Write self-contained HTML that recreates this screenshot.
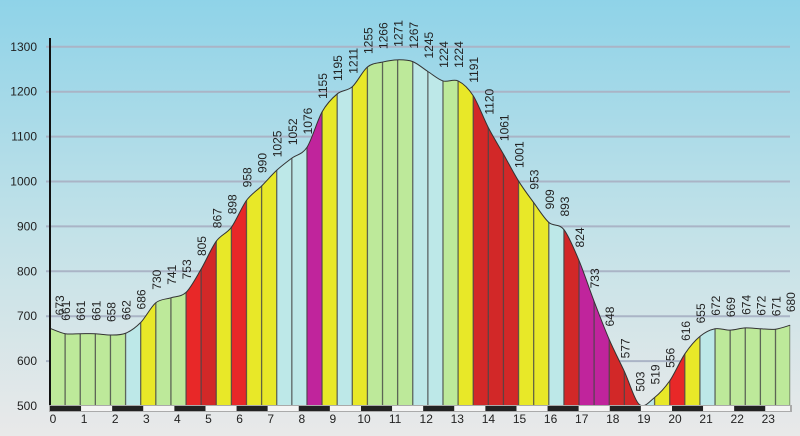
<!DOCTYPE html>
<html><head><meta charset="utf-8">
<style>
html,body{margin:0;padding:0;width:800px;height:436px;overflow:hidden;}
svg{display:block;font-family:"Liberation Sans",sans-serif;}
</style></head>
<body>
<svg id="chart" width="800" height="436" viewBox="0 0 800 436" xmlns="http://www.w3.org/2000/svg">
<defs>
<linearGradient id="bg" x1="0" y1="0" x2="0" y2="1">
<stop offset="0" stop-color="#8fd3e8"/>
<stop offset="0.55" stop-color="#c4e2e8"/>
<stop offset="1" stop-color="#e9e9e9"/>
</linearGradient>
<clipPath id="areaClip"><path id="clipPath"/></clipPath>
</defs>
<rect x="0" y="0" width="800" height="436" fill="url(#bg)"/>
<g id="grid"></g>
<g id="yticks"></g>
<g id="segs" clip-path="url(#areaClip)"></g>
<path id="outline" fill="none" stroke="#333" stroke-width="1"/>
<g id="labels"></g>
<line x1="50" y1="38" x2="50" y2="407" stroke="#111" stroke-width="2"/>
<g id="kmbar"></g>
<g id="xticks"></g>
</svg>
<script>
const elevations = [673,661,661,661,658,662,686,730,741,753,805,867,898,958,990,1025,1052,1076,1155,1195,1211,1255,1266,1271,1267,1245,1224,1224,1191,1120,1061,1001,953,909,893,824,733,648,577,503,519,556,616,655,672,669,674,672,671,680];
const distances = [0,0.486,0.972,1.458,1.944,2.43,2.916,3.402,3.888,4.374,4.86,5.346,5.832,6.318,6.804,7.29,7.776,8.262,8.748,9.234,9.72,10.206,10.692,11.178,11.664,12.15,12.636,13.122,13.608,14.094,14.58,15.066,15.552,16.038,16.524,17.01,17.496,17.982,18.468,18.954,19.44,19.926,20.412,20.898,21.384,21.87,22.356,22.842,23.328,23.8];
const yTickLabels = [500,600,700,800,900,1000,1100,1200,1300];
const xTickLabels = [0,1,2,3,4,5,6,7,8,9,10,11,12,13,14,15,16,17,18,19,20,21,22,23];

const NS='http://www.w3.org/2000/svg';
const X0=50, PXKM=31.1, Y0=406, PXM=0.449;
const xs = d => X0 + d*PXKM;
const ys = v => Y0 - (v-500)*PXM;
function mk(tag, attrs, parent){const e=document.createElementNS(NS,tag);for(const k in attrs)e.setAttribute(k,attrs[k]);parent.appendChild(e);return e;}
const C={green:'#bde99a',blue:'#bde8e8',yellow:'#e8e828',red:'#e82828',dred:'#d22828',mag:'#c0249c'};
function gradeColor(i){
  const dd=(distances[i+1]-distances[i])*1000;
  const g=(elevations[i+1]-elevations[i])/dd*100, a=Math.abs(g);
  if(a<3) return C.green;
  if(a<6) return C.blue;
  if(a<10) return C.yellow;
  if(a<15.5) return (g<0||a>12.5)?C.dred:C.red;
  return C.mag;
}
const grid=document.getElementById('grid'), yt=document.getElementById('yticks');
yTickLabels.forEach(v=>{
  if(v>500){const l=mk('line',{x1:46,x2:790,y1:ys(v),y2:ys(v),stroke:'#aab4c6','stroke-width':2},grid);
  }
  const t=mk('text',{x:37,y:ys(v)+4,'text-anchor':'end','font-size':12,fill:'#222'},yt);
  
  t.textContent=v;
});
const pts=elevations.map((v,i)=>[xs(distances[i]),ys(v)]);
let d='M'+pts[0][0]+','+pts[0][1];
for(let i=0;i<pts.length-1;i++){
  const p0=pts[Math.max(0,i-1)],p1=pts[i],p2=pts[i+1],p3=pts[Math.min(pts.length-1,i+2)];
  const t=0.16;
  d+=' C'+(p1[0]+(p2[0]-p0[0])*t)+','+(p1[1]+(p2[1]-p0[1])*t)+' '+(p2[0]-(p3[0]-p1[0])*t)+','+(p2[1]-(p3[1]-p1[1])*t)+' '+p2[0]+','+p2[1];
}
document.getElementById('outline').setAttribute('d',d);
const last=pts[pts.length-1];
document.getElementById('clipPath').setAttribute('d',d+' L'+last[0]+','+Y0+' L'+pts[0][0]+','+Y0+' Z');
const segs=document.getElementById('segs');
for(let i=0;i<elevations.length-1;i++){
  const x1=xs(distances[i]),x2=xs(distances[i+1]);
  const r=mk('rect',{x:x1,y:30,width:x2-x1,height:Y0-30,fill:gradeColor(i)},segs);
  
}
for(let i=1;i<elevations.length;i++){
  const x=xs(distances[i]);
  const l=mk('line',{x1:x,x2:x,y1:30,y2:Y0,stroke:'#444','stroke-width':1.3,'stroke-opacity':0.8},segs);
  
}
const lab=document.getElementById('labels');
elevations.forEach((v,i)=>{
  let x=xs(distances[i])+5, y=ys(v)-13;
  if(i===0){x+=9;}
  if(i===elevations.length-1){x=Math.min(x,796);}
  const t=mk('text',{x:0,y:0,'font-size':12,fill:'#222',transform:'translate('+x+','+y+') rotate(-90)'},lab);
  
  t.textContent=v;
});
const kb=document.getElementById('kmbar');
mk('rect',{x:49,y:405,width:743,height:7,fill:'#aaa'},kb);
for(let k=0;k<24;k++){
  const x1=xs(k),x2=Math.min(xs(k+1),790);
  const r=mk('rect',{x:x1,y:406,width:x2-x1,height:5,fill:(k%2===0)?'#222':'#f4f4f4'},kb);
  
}
const xt=document.getElementById('xticks');
xTickLabels.forEach(k=>{
  const t=mk('text',{x:xs(k)+3,y:423,'text-anchor':'middle','font-size':12,fill:'#222'},xt);
  
  t.textContent=k;
});
</script>
</body></html>
